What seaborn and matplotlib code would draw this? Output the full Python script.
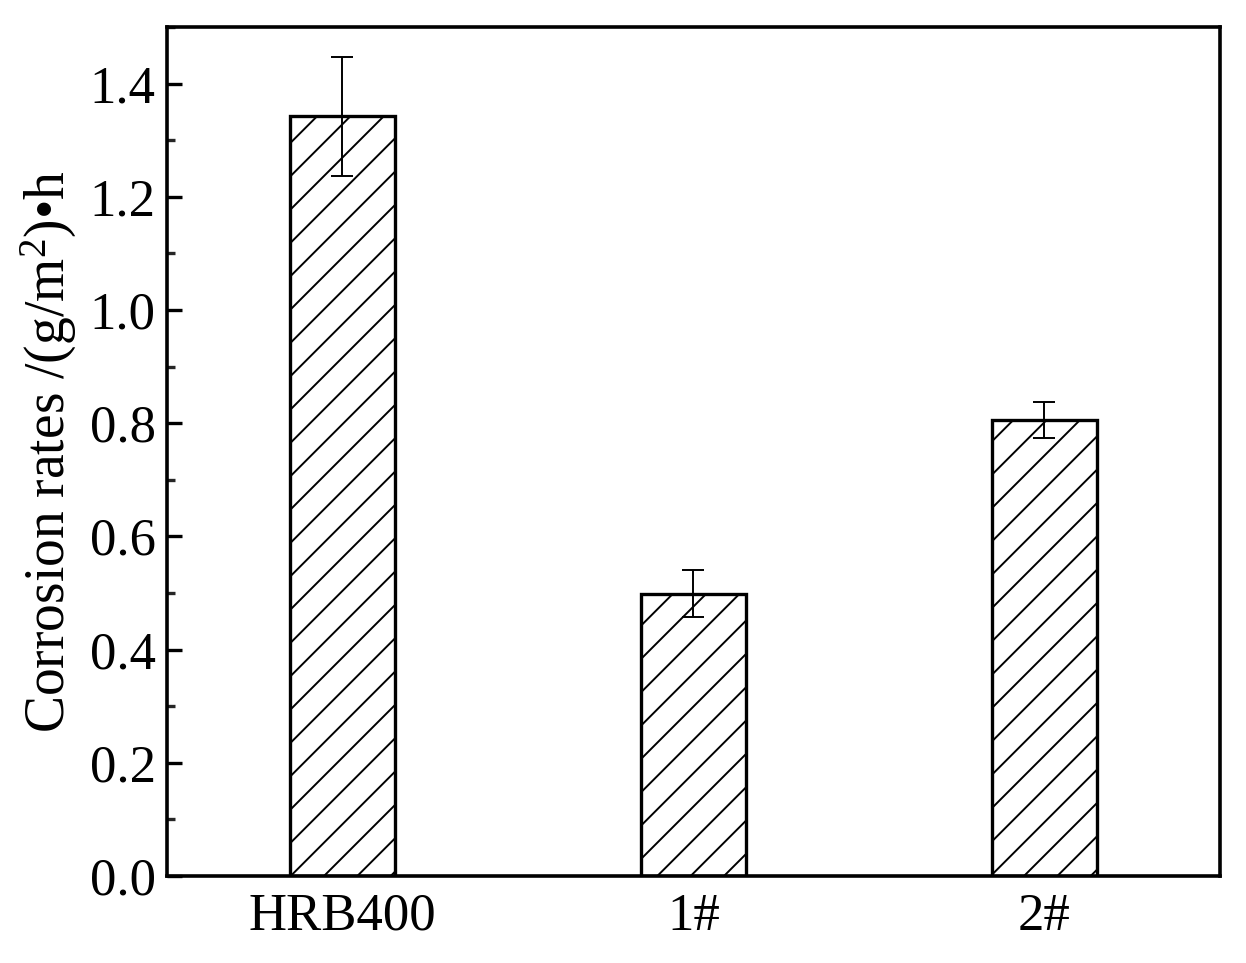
import matplotlib
matplotlib.use("Agg")
import matplotlib.pyplot as plt
from matplotlib.ticker import MultipleLocator, FormatStrFormatter
import seaborn as sns
import numpy as np

# data
samples = ["HRB400", "1#", "2#"]
rates = [1.342, 0.499, 0.806]
rate_err = [0.105, 0.041, 0.032]

sns.set_theme(style="ticks")
plt.rcParams['font.family'] = ['Liberation Serif', 'DejaVu Serif']
plt.rcParams['mathtext.fontset'] = 'custom'
plt.rcParams['mathtext.rm'] = 'Liberation Serif'
plt.rcParams['mathtext.it'] = 'Liberation Serif:italic'
plt.rcParams['hatch.linewidth'] = 1.4
plt.rcParams['text.color'] = 'black'
plt.rcParams['axes.labelcolor'] = 'black'

fig = plt.figure(figsize=(12.46, 9.63), dpi=100)
ax = fig.add_axes([0.134, 0.0903, 0.845, 0.8817])

sns.barplot(x=samples, y=rates, color="white", edgecolor="black",
            linewidth=2.4, width=0.3, hatch="/", errorbar=None, ax=ax)
ax.errorbar(np.arange(len(samples)), rates, yerr=rate_err, fmt="none",
            ecolor="black", elinewidth=1.4, capsize=8, capthick=1.4)

ax.set_xlim(-0.5, 2.5)
ax.set_ylim(0, 1.5)
ax.yaxis.set_major_locator(MultipleLocator(0.2))
ax.yaxis.set_minor_locator(MultipleLocator(0.1))
ax.yaxis.set_major_formatter(FormatStrFormatter("%.1f"))

for s in ax.spines.values():
    s.set_linewidth(2.6)
    s.set_color("black")
ax.tick_params(axis="y", which="major", direction="in", length=11, width=2.4,
               labelsize=38, pad=8, colors="black")
ax.tick_params(axis="y", which="minor", direction="in", length=6, width=2.4)
ax.tick_params(axis="x", which="major", direction="in", length=11, width=2.4,
               labelsize=38, pad=12, colors="black")

ax.set_ylabel("Corrosion rates /(g/m$^2$)•h", fontsize=40, labelpad=8)
ax.set_xlabel("")

fig.savefig("out.png", dpi=100)
